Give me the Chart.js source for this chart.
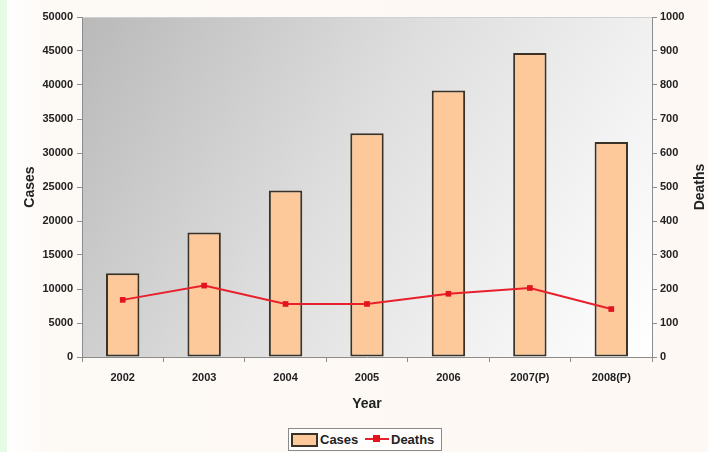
<!DOCTYPE html>
<html>
<head>
<meta charset="utf-8">
<script src="https://cdn.jsdelivr.net/npm/chart.js@4/dist/chart.umd.min.js"></script>
<style>
  html, body { margin: 0; padding: 0; }
  body {
    width: 708px; height: 452px; overflow: hidden; position: relative;
    background: linear-gradient(to right, #e6fbe6 0px, #e6fbe6 7px, #ffffff 7px, #fdf9f5 50px, #fdf8f4 100%);
    font-family: "Liberation Sans", Arial, sans-serif;
  }
  #wrap { position: absolute; left: 0; top: 0; width: 708px; height: 452px; }
  #legend {
    position: absolute; left: 288px; top: 428px; width: 152px; height: 21px;
    border: 1px solid #8a8a8a; background: #fffdfb; box-sizing: content-box;
    font-weight: bold; font-size: 13px; color: #222;
  }
  #legend .sw {
    position: absolute; left: 2px; top: 4px; width: 23px; height: 10px;
    background: #fdc99a; border: 2px solid #3a3226;
  }
  #legend .t1 { position: absolute; left: 31px; top: 0; line-height: 21px; }
  #legend .ln {
    position: absolute; left: 76px; top: 9px; width: 24px; height: 2px; background: #e8202c;
  }
  #legend .mk {
    position: absolute; left: 84px; top: 6px; width: 7px; height: 7px; background: #e2141e;
  }
  #legend .t2 { position: absolute; left: 102px; top: 0; line-height: 21px; }
</style>
</head>
<body>
<div id="wrap"><canvas id="chart" width="708" height="452"></canvas></div>
<div id="legend">
  <span class="sw"></span><span class="t1">Cases</span>
  <span class="ln"></span><span class="mk"></span><span class="t2">Deaths</span>
</div>
<script>
// Yearly totals
const years = ['2002', '2003', '2004', '2005', '2006', '2007(P)', '2008(P)'];
const cases = [12300, 18300, 24500, 32900, 39200, 44700, 31600];
const deaths = [168, 210, 156, 156, 186, 203, 141];

const caseTicks = { min: 0, max: 50000, step: 5000 };
const deathTicks = { min: 0, max: 1000, step: 100 };

const fontFamily = '"Liberation Sans", Arial, sans-serif';
const tickFont = { family: fontFamily, size: 11, weight: 'bold' };
const titleFont = { family: fontFamily, size: 14, weight: 'bold' };
const axisGrey = '#8c8c8c';
const textColor = '#222';
const plainNumber = v => String(v);

// Shaded plot background plus the vertical "Deaths" title on the right
const plotDecor = {
  id: 'plotDecor',
  beforeDraw(chart) {
    const { ctx, chartArea: a } = chart;
    const g = ctx.createLinearGradient(a.left, a.top, a.right, a.bottom);
    g.addColorStop(0, '#b9b9b9');
    g.addColorStop(0.45, '#dedede');
    g.addColorStop(0.8, '#f4f4f4');
    g.addColorStop(1, '#ffffff');
    ctx.save();
    ctx.fillStyle = g;
    ctx.fillRect(a.left, a.top, a.right - a.left, a.bottom - a.top);
    ctx.strokeStyle = '#d0d0d0';
    ctx.lineWidth = 1;
    ctx.beginPath();
    ctx.moveTo(a.left, a.top + 0.5);
    ctx.lineTo(a.right, a.top + 0.5);
    ctx.stroke();
    ctx.restore();
  },
  afterDraw(chart) {
    const { ctx, chartArea: a } = chart;
    ctx.save();
    ctx.translate(700, (a.top + a.bottom) / 2);
    ctx.rotate(-Math.PI / 2);
    ctx.font = 'bold 14px ' + fontFamily;
    ctx.fillStyle = textColor;
    ctx.textAlign = 'center';
    ctx.textBaseline = 'middle';
    ctx.fillText('Deaths', 0, 0);
    ctx.restore();
  }
};

new Chart(document.getElementById('chart'), {
  data: {
    labels: years,
    datasets: [
      {
        type: 'line',
        label: 'Deaths',
        data: deaths,
        yAxisID: 'y1',
        borderColor: '#e8202c',
        backgroundColor: '#e2141e',
        borderWidth: 2,
        pointStyle: 'rect',
        pointRadius: 4,
        pointBorderWidth: 0,
        tension: 0,
        order: 1
      },
      {
        type: 'bar',
        label: 'Cases',
        data: cases,
        yAxisID: 'y',
        backgroundColor: '#fdc99a',
        borderColor: '#3a3226',
        borderWidth: 2,
        borderSkipped: false,
        categoryPercentage: 1,
        barPercentage: 0.41,
        order: 2
      }
    ]
  },
  options: {
    responsive: false,
    animation: false,
    devicePixelRatio: 1,
    layout: { padding: { left: 8, right: 0, top: 17, bottom: 37 } },
    plugins: { legend: { display: false }, tooltip: { enabled: false } },
    scales: {
      x: {
        afterFit(s) { s.height = 58; },
        grid: { drawOnChartArea: false, drawTicks: true, tickLength: 5, color: axisGrey },
        border: { color: axisGrey, width: 1 },
        ticks: { font: tickFont, color: textColor, padding: 9, maxRotation: 0 },
        title: { display: true, text: 'Year', font: titleFont, color: textColor, padding: { top: 0, bottom: 2 } }
      },
      y: {
        position: 'left',
        min: caseTicks.min, max: caseTicks.max,
        afterFit(s) { s.width = 74; },
        grid: { drawOnChartArea: false, drawTicks: true, tickLength: 5, color: axisGrey },
        border: { color: axisGrey, width: 1 },
        ticks: { stepSize: caseTicks.step, font: tickFont, color: textColor, padding: 4, callback: plainNumber },
        title: { display: true, text: 'Cases', font: titleFont, color: textColor, padding: { top: 14, bottom: 0 } }
      },
      y1: {
        position: 'right',
        min: deathTicks.min, max: deathTicks.max,
        afterFit(s) { s.width = 56; },
        grid: { drawOnChartArea: false, drawTicks: true, tickLength: 5, color: axisGrey },
        border: { color: axisGrey, width: 1 },
        ticks: { stepSize: deathTicks.step, font: tickFont, color: textColor, padding: 3, callback: plainNumber }
      }
    }
  },
  plugins: [plotDecor]
});
</script>
</body>
</html>
